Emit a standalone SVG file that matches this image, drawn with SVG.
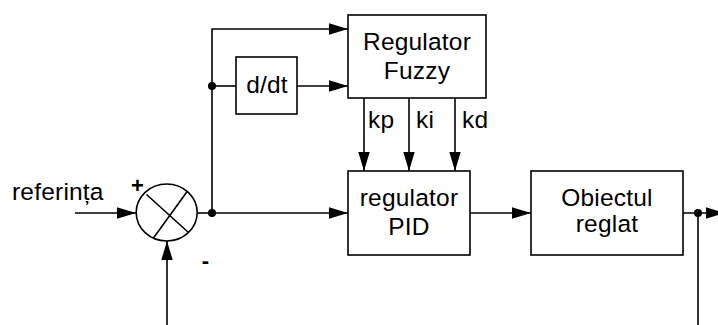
<svg xmlns="http://www.w3.org/2000/svg" width="718" height="325" viewBox="0 0 718 325">
<defs>
<style>
.box{fill:#fff;stroke:#000;stroke-width:1.6}
.ln{fill:none;stroke:#000;stroke-width:1.6}
.t{font-family:"Liberation Sans",Arial,sans-serif;font-size:24.5px;letter-spacing:0.2px;fill:#000}
.m{text-anchor:middle}
.dot{fill:#000}
</style>
<marker id="arr" markerWidth="19" markerHeight="12" refX="19" refY="6" orient="auto" markerUnits="userSpaceOnUse">
<path d="M0,0.3 L19,6 L0,11.7 Z" fill="#000"/>
</marker>
</defs>
<rect width="718" height="325" fill="#fff"/>
<g id="connectors">
<path class="ln" d="M75,213 H136" marker-end="url(#arr)"/>
<path class="ln" d="M167,325 V241" marker-end="url(#arr)"/>
<path class="ln" d="M197,213 H212"/>
<path class="ln" d="M212,213 H348" marker-end="url(#arr)"/>
<path class="ln" d="M212,213 V29 H348" marker-end="url(#arr)"/>
<path class="ln" d="M212,86 H236"/>
<path class="ln" d="M297,86 H348" marker-end="url(#arr)"/>
<path class="ln" d="M364,98 V171" marker-end="url(#arr)"/>
<path class="ln" d="M409,98 V171" marker-end="url(#arr)"/>
<path class="ln" d="M455,98 V171" marker-end="url(#arr)"/>
<path class="ln" d="M470,213 H531" marker-end="url(#arr)"/>
<path class="ln" d="M683,213 H725" marker-end="url(#arr)"/>
<path class="ln" d="M698,213 V325"/>
<circle class="dot" cx="212" cy="213" r="4"/>
<circle class="dot" cx="212" cy="86" r="4"/>
<circle class="dot" cx="698" cy="213" r="4"/>
<text class="t" x="368" y="128">kp</text>
<text class="t" x="416" y="128">ki</text>
<text class="t" x="462" y="128">kd</text>
</g>
<g id="sum">
<ellipse class="box" cx="166.7" cy="212.5" rx="30.5" ry="28.5"/>
<path class="ln" d="M146.5,194.5 L188.5,232.5 M153.5,238 L187.5,191"/>
<text class="t m" x="137.5" y="193" style="font-size:22px;font-weight:bold">+</text>
<text class="t m" x="205.5" y="268" style="font-size:22px;font-weight:bold">-</text>
</g>
<g id="referinta">
<text class="t" x="12" y="200">referința</text>
</g>
<g id="fuzzy">
<rect class="box" x="348" y="15" width="138" height="83"/>
<text class="t m" x="417" y="50">Regulator</text>
<text class="t m" x="417" y="79">Fuzzy</text>
</g>
<g id="ddt">
<rect class="box" x="236" y="57" width="61" height="57"/>
<text class="t m" x="267" y="93">d/dt</text>
</g>
<g id="pid">
<rect class="box" x="348" y="171" width="122" height="84"/>
<text class="t m" x="409" y="206">regulator</text>
<text class="t m" x="409" y="235">PID</text>
</g>
<g id="obiect">
<rect class="box" x="531" y="171" width="152" height="84"/>
<text class="t m" x="607" y="206">Obiectul</text>
<text class="t m" x="607" y="232">reglat</text>
</g>
</svg>
